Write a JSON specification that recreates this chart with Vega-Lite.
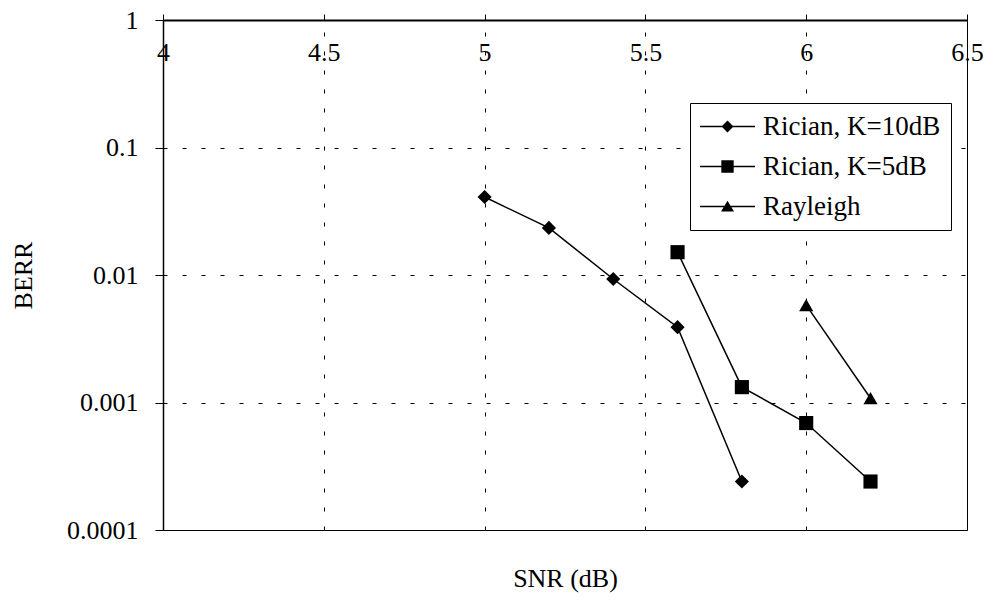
{
  "$schema": "https://vega.github.io/schema/vega-lite/v6.json",
  "width": 804,
  "height": 510,
  "autosize": {"type": "none"},
  "padding": {"left": 163, "top": 20, "right": 17, "bottom": 70},
  "background": "white",
  "config": {
    "view": {"stroke": "black", "strokeWidth": 1},
    "font": "Liberation Serif",
    "axis": {
      "labelFont": "Liberation Serif",
      "titleFont": "Liberation Serif",
      "labelColor": "black",
      "titleColor": "black",
      "titleFontWeight": "normal",
      "domainColor": "black",
      "tickColor": "black",
      "gridColor": "black",
      "gridDash": [4, 15],
      "gridWidth": 1,
      "labelFontSize": 26,
      "titleFontSize": 26
    },
    "legend": {"labelFont": "Liberation Serif"}
  },
  "data": {
    "values": [
      {"series": "Rician, K=10dB", "snr": 5.0, "berr": 0.0409},
      {"series": "Rician, K=10dB", "snr": 5.2, "berr": 0.0234},
      {"series": "Rician, K=10dB", "snr": 5.4, "berr": 0.0093},
      {"series": "Rician, K=10dB", "snr": 5.6, "berr": 0.0039},
      {"series": "Rician, K=10dB", "snr": 5.8, "berr": 0.00024},
      {"series": "Rician, K=5dB", "snr": 5.6, "berr": 0.0151},
      {"series": "Rician, K=5dB", "snr": 5.8, "berr": 0.00132},
      {"series": "Rician, K=5dB", "snr": 6.0, "berr": 0.00069},
      {"series": "Rician, K=5dB", "snr": 6.2, "berr": 0.00024},
      {"series": "Rayleigh", "snr": 6.0, "berr": 0.0058},
      {"series": "Rayleigh", "snr": 6.2, "berr": 0.00108}
    ]
  },
  "resolve": {
    "axis": {"x": "independent"},
    "scale": {"shape": "independent"},
    "legend": {"shape": "independent"}
  },
  "layer": [
    {
      "mark": {"type": "line", "color": "black", "strokeWidth": 1.5},
      "encoding": {
        "x": {
          "field": "snr",
          "type": "quantitative",
          "scale": {"domain": [4, 6.5], "nice": false, "zero": false},
          "axis": {
            "orient": "top",
            "values": [4, 4.5, 5, 5.5, 6, 6.5],
            "format": "~g",
            "title": null,
            "grid": true,
            "tickSize": 6,
            "labelPadding": -38,
            "labelBaseline": "middle",
            "labelAlign": "center",
            "labelFlush": false,
            "domainWidth": 2
          }
        },
        "y": {
          "field": "berr",
          "type": "quantitative",
          "scale": {"type": "log", "domain": [0.0001, 1], "nice": false},
          "axis": {
            "values": [0.0001, 0.001, 0.01, 0.1, 1],
            "format": "~g",
            "title": "BERR",
            "grid": true,
            "tickSize": 8,
            "labelPadding": 17,
            "titleX": -140,
            "titleY": 255,
            "titleAngle": -90,
            "titleBaseline": "middle",
            "titleAlign": "center",
            "domainWidth": 1.5
          }
        },
        "detail": {"field": "series", "type": "nominal"}
      }
    },
    {
      "mark": {"type": "point", "filled": true, "color": "black", "opacity": 1, "size": 200},
      "encoding": {
        "x": {
          "field": "snr",
          "type": "quantitative",
          "axis": {
            "orient": "bottom",
            "labels": false,
            "ticks": false,
            "domain": false,
            "grid": false,
            "title": "SNR (dB)",
            "titleY": 48,
            "titleBaseline": "middle"
          }
        },
        "y": {"field": "berr", "type": "quantitative"},
        "shape": {
          "field": "series",
          "type": "nominal",
          "scale": {"domain": ["Rician, K=10dB", "Rician, K=5dB", "Rayleigh"], "range": ["diamond", "square", "triangle-up"]},
          "legend": null
        }
      }
    },
    {
      "mark": {"type": "point", "filled": true, "color": "black", "opacity": 0, "size": 169},
      "encoding": {
        "x": {"field": "snr", "type": "quantitative", "axis": null},
        "y": {"field": "berr", "type": "quantitative"},
        "shape": {
          "field": "series",
          "type": "nominal",
          "scale": {
            "domain": ["Rician, K=10dB", "Rician, K=5dB", "Rayleigh"],
            "range": [
              "M-4.23,-0.12H4.23V0.12H-4.23ZM0,-0.92L0.92,0L0,0.92L-0.92,0Z",
              "M-4.23,-0.1H4.23V0.1H-4.23ZM-0.95,-0.95H0.95V0.95H-0.95Z",
              "M-4.23,-0.12H4.23V0.12H-4.23ZM0,-0.9L1,0.75L-1,0.75Z"
            ]
          },
          "legend": {
            "orient": "none",
            "legendX": 527,
            "legendY": 83,
            "title": null,
            "labelFont": "Liberation Serif",
            "labelFontSize": 27,
            "labelColor": "black",
            "labelLimit": 400,
            "symbolSize": 169,
            "symbolStrokeWidth": 1.5,
            "symbolStrokeColor": "black",
            "symbolFillColor": "black",
            "symbolOpacity": 1,
            "symbolOffset": 14,
            "labelOffset": 22,
            "rowPadding": 12,
            "padding": 10,
            "strokeColor": "black",
            "fillColor": "white"
          }
        }
      }
    }
  ]
}
